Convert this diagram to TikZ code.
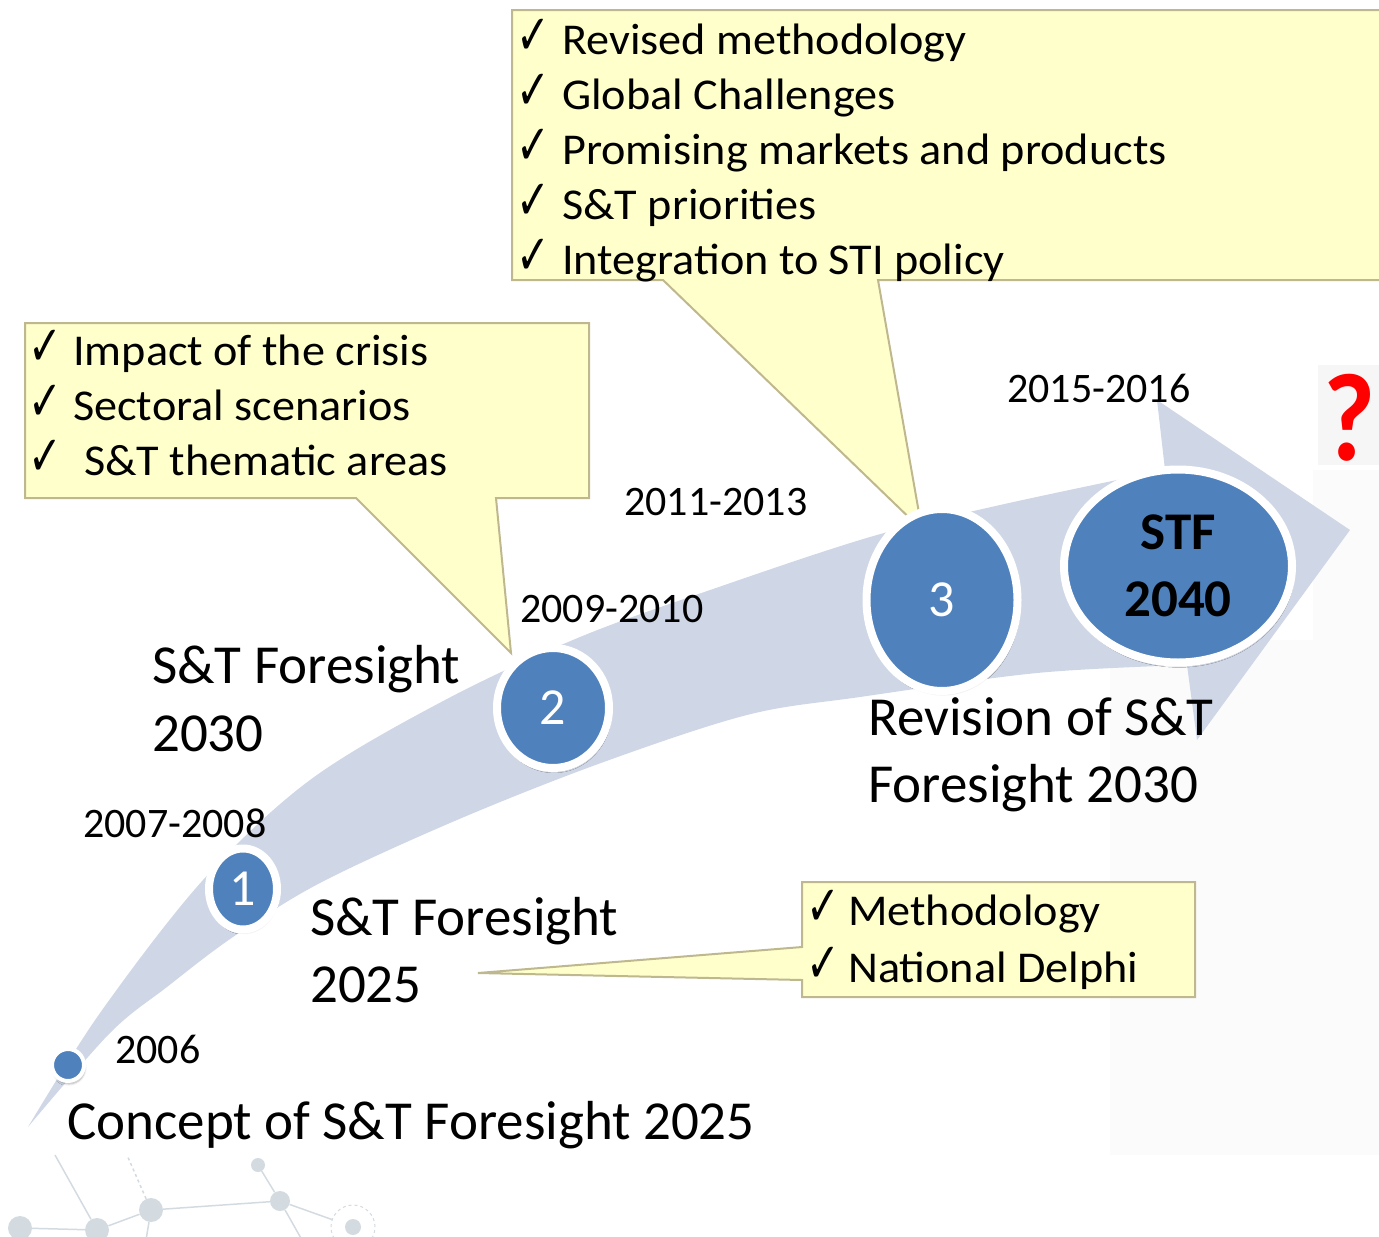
\documentclass[tikz,border=0pt]{standalone}
\usepackage{fontspec}
\setmainfont{Carlito}
\newfontfamily\calfont[FakeStretch=1.05]{Carlito}
\newfontfamily\qfont[FakeStretch=0.9]{Carlito}
\newfontfamily\symfont{DejaVu Sans}
\usetikzlibrary{shapes.geometric,shadows.blur}

\definecolor{band}{HTML}{CFD7E6}
\definecolor{stageblue}{HTML}{4F81BD}
\definecolor{calfill}{HTML}{FFFFCC}
\definecolor{calline}{HTML}{BFB88F}
\definecolor{netgrey}{HTML}{D3DBE1}
\definecolor{qred}{HTML}{FF0000}
\definecolor{panel}{HTML}{FBFBFB}
\definecolor{qpanel}{HTML}{F6F6F6}

\newcommand{\tickmark}{\scalebox{0.72}[1]{✓}}

\tikzset{
  stage/.style={ellipse, fill=stageblue, draw=white, line width=8pt, inner sep=0pt,
    text=white, font=\fontsize{52}{60}\selectfont,
    blur shadow={shadow xshift=1pt, shadow yshift=-3pt, shadow blur steps=6, shadow opacity=30}},
  callout/.style={fill=calfill, draw=calline, line width=2pt, line join=miter},
  bigtext/.style={anchor=base west, inner sep=0pt, font=\fontsize{55}{66}\selectfont},
  datetext/.style={anchor=base west, inner sep=0pt, font=\fontsize{42}{50}\selectfont},
  item/.style={anchor=base west, inner sep=0pt, font=\calfont\fontsize{44}{55}\selectfont},
  tick/.style={anchor=base west, inner sep=0pt, font=\symfont\fontsize{56}{60}\selectfont},
  netnode/.style={circle, fill=netgrey, inner sep=0pt},
  netline/.style={draw=netgrey, line width=1.5pt},
}

\begin{document}
\begin{tikzpicture}[x=1pt, y=-1pt]
\useasboundingbox (0,0) rectangle (1379,1237);

% faint background panels on the right
\fill[panel] (1110,640) rectangle (1379,1155);
\fill[panel] (1313,470) rectangle (1379,640);
\fill[qpanel] (1318,365) rectangle (1379,465);

% network ornament, bottom left
\node[netnode, minimum size=24pt] (nA) at (20,1228) {};
\node[netnode, minimum size=24pt] (nB) at (97,1230) {};
\node[netnode, minimum size=24pt] (nC) at (151,1210) {};
\node[netnode, minimum size=14pt] (nD) at (258,1165) {};
\node[netnode, minimum size=20pt] (nE) at (280,1201) {};
\node[netnode, minimum size=16pt] (nF) at (353,1227) {};
\node[circle, draw=netgrey, dashed, line width=1pt, minimum size=44pt] (nFring) at (353,1227) {};
\coordinate (nBup) at (55,1155);
\coordinate (nCup) at (127,1155);
\coordinate (nCdown) at (146,1240);
\coordinate (nEdown) at (302,1240);
\path[netline] (nA) -- (nB);
\path[netline] (nB) -- (nC);
\path[netline] (nC) -- (nE);
\path[netline] (nD) -- (nE);
\path[netline] (nE) -- (nFring);
\path[netline] (nB) -- (nBup);
\path[netline] (nC) -- (nCdown);
\path[netline] (nE) -- (nEdown);
\draw[netgrey, line width=1.5pt, dashed] (nC) -- (nCup);

% the curved timeline arrow
\fill[band]
  plot[smooth, tension=0.55] coordinates {(28,1127) (100,1013) (203,880) (310,780) (445,700)
     (580,637) (713,589) (870,537) (1000,505) (1165,470)}
  -- (1157,400) -- (1350,530) -- (1197,740)
  -- plot[smooth, tension=0.55] coordinates {(1187,665) (1037,673) (860,697) (747,715)
     (601,763) (457,820) (320,883) (233,937) (167,987) (110,1033) (28,1127)}
  -- cycle;

% callouts
\coordinate (tipThree) at (922,530);
\coordinate (tipTwo) at (511,653);
\coordinate (tipOne) at (478,973);
\draw[callout] (512,10) -- (1383,10) -- (1383,280) -- (878,280) -- (tipThree) -- (663,280) -- (512,280) -- cycle;
\draw[callout] (25,323) -- (589,323) -- (589,498) -- (496,498) -- (tipTwo) -- (356,498) -- (25,498) -- cycle;
\draw[callout] (802,882) -- (1195,882) -- (1195,997) -- (802,997) -- (802,980) -- (tipOne) -- (802,947) -- cycle;

% top callout items
\foreach \y/\txt in {54/Revised methodology, 109/Global Challenges, 164/Promising markets and products,
                    219/S\&T priorities, 274/Integration to STI policy}{
  \node[tick] (tk\y) at (516,\y) {\tickmark};
  \node[item] (it\y) at (562,\y) {\txt};
}
% left callout items
\node[tick] (lt1) at (28,365) {\tickmark};
\node[item] (li1) at (73,365) {Impact of the crisis};
\node[tick] (lt2) at (28,420) {\tickmark};
\node[item] (li2) at (73,420) {Sectoral scenarios};
\node[tick] (lt3) at (28,475) {\tickmark};
\node[item] (li3) at (84,475) {S\&T thematic areas};
% bottom callout items
\node[tick] (bt1) at (806,925) {\tickmark};
\node[item] (bi1) at (848,925) {Methodology};
\node[tick] (bt2) at (806,982) {\tickmark};
\node[item] (bi2) at (848,982) {National Delphi};

% stages on the timeline
\node[stage, line width=4pt, minimum width=32pt, minimum height=32pt] (s0) at (68,1065) {};
\node[stage, minimum width=68pt, minimum height=81pt] (s1) at (243,889) {1};
\node[stage, minimum width=112pt, minimum height=120pt] (s2) at (553,708) {2};
\node[stage, minimum width=151pt, minimum height=182pt] (s3) at (942,600) {3};
\node[stage, minimum width=228pt, minimum height=193pt, text=black, align=center,
      font=\bfseries\fontsize{53}{67}\selectfont] (s4) at (1178,566) {STF\\2040};

% dates
\node[datetext] (d0) at (115,1063) {2006};
\node[datetext] (d1) at (83,837) {2007-2008};
\node[datetext] (d2) at (520,622) {2009-2010};
\node[datetext] (d3) at (624,515) {2011-2013};
\node[datetext] (d4) at (1007,402) {2015-2016};

% project titles
\node[bigtext] (c0) at (67,1139) {Concept of S\&T Foresight 2025};
\node[bigtext] (c1a) at (310,935) {S\&T Foresight};
\node[bigtext] (c1b) at (310,1002) {2025};
\node[bigtext] (c2a) at (152,683) {S\&T Foresight};
\node[bigtext] (c2b) at (152,751) {2030};
\node[bigtext] (c3a) at (868,735) {Revision of S\&T};
\node[bigtext] (c3b) at (868,802) {Foresight 2030};

% open future
\node[inner sep=0pt, text=qred, font=\qfont\bfseries\fontsize{125}{130}\selectfont] (q) at (1350,418) {?};
\end{tikzpicture}
\end{document}
